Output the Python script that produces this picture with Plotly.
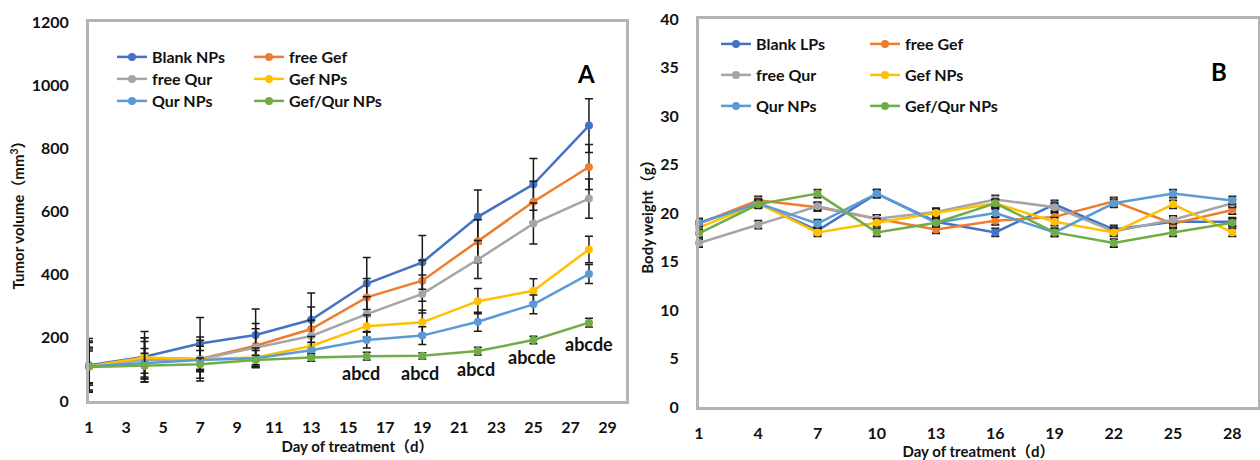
import plotly.graph_objects as go

# ---------------- data ----------------
days_a = [1, 4, 7, 10, 13, 16, 19, 22, 25, 28]
names_a = ["Blank NPs", "free Gef", "free Qur", "Gef NPs", "Qur NPs", "Gef/Qur NPs"]
blank_np = [113, 140, 182, 209, 257, 372, 439, 583, 686, 872]
free_gef_a = [110, 135, 133, 175, 228, 328, 381, 506, 631, 741]
free_qur_a = [110, 130, 132, 169, 206, 275, 339, 448, 562, 641]
gef_np_a = [110, 138, 133, 138, 174, 237, 249, 316, 349, 480]
qur_np_a = [110, 121, 130, 135, 161, 193, 207, 251, 306, 402]
gefqur_np_a = [108, 111, 116, 130, 138, 142, 143, 158, 193, 248]
blank_np_err = [85, 80, 82, 82, 85, 82, 85, 85, 82, 85]
free_gef_a_err = [80, 65, 70, 70, 70, 60, 65, 68, 65, 71]
free_qur_a_err = [75, 70, 60, 60, 50, 55, 60, 60, 65, 62]
gef_np_a_err = [60, 50, 40, 30, 30, 35, 38, 40, 38, 42]
qur_np_a_err = [55, 45, 30, 25, 25, 25, 28, 30, 30, 30]
gefqur_np_a_err = [50, 40, 20, 15, 12, 12, 10, 12, 12, 14]

sig_labels = ["abcd", "abcd", "abcd", "abcde", "abcde"]
sig_x = [15.7, 18.85, 21.9, 24.95, 28.0]
sig_y = [89, 89, 101, 139, 180]

days_b = [1, 4, 7, 10, 13, 16, 19, 22, 25, 28]
names_b = ["Blank LPs", "free Gef", "free Qur", "Gef NPs", "Qur NPs", "Gef/Qur NPs"]
blank_lp = [19.0, 21.0, 18.2, 22.0, 19.1, 18.0, 20.9, 18.3, 19.1, 19.1]
free_gef_b = [18.9, 21.3, 20.6, 19.4, 18.3, 19.2, 19.6, 21.2, 18.9, 20.3]
free_qur_b = [16.9, 18.8, 20.7, 19.4, 20.1, 21.4, 20.6, 18.1, 19.3, 21.0]
gef_np_b = [18.5, 21.0, 18.0, 19.0, 20.0, 21.0, 19.1, 18.0, 20.9, 18.0]
qur_np_b = [19.0, 21.0, 18.9, 22.0, 19.0, 20.0, 18.0, 21.0, 22.0, 21.3]
gefqur_np_b = [17.9, 20.9, 22.0, 18.0, 19.0, 21.0, 18.0, 16.9, 18.0, 19.0]
err_b = [0.4, 0.4, 0.4, 0.4, 0.4, 0.4, 0.4, 0.4, 0.4, 0.4]

colors = ["#4472C4", "#ED7D31", "#A5A5A5", "#FFC000", "#5B9BD5", "#70AD47"]

series_a = [blank_np, free_gef_a, free_qur_a, gef_np_a, qur_np_a, gefqur_np_a]
errs_a = [blank_np_err, free_gef_a_err, free_qur_a_err, gef_np_a_err, qur_np_a_err, gefqur_np_a_err]
series_b = [blank_lp, free_gef_b, free_qur_b, gef_np_b, qur_np_b, gefqur_np_b]

FONT = "Lato, 'Noto Sans CJK SC', sans-serif"
W, H = 1260, 460

fig = go.Figure()

legs_a = ["legend", "legend", "legend2", "legend2", "legend3", "legend3"]
legs_b = ["legend4", "legend4", "legend5", "legend5", "legend6", "legend6"]

for i, (nm, ys, es) in enumerate(zip(names_a, series_a, errs_a)):
    fig.add_trace(go.Scatter(
        x=days_a, y=ys, name=nm, mode="lines+markers", cliponaxis=False,
        line=dict(color=colors[i], width=2.5),
        marker=dict(color=colors[i], size=8),
        error_y=dict(type="data", array=es, color="#1a1a1a", thickness=1.5, width=4),
        xaxis="x", yaxis="y", legend=legs_a[i],
    ))

for i, (nm, ys) in enumerate(zip(names_b, series_b)):
    fig.add_trace(go.Scatter(
        x=days_b, y=ys, name=nm, mode="lines+markers", cliponaxis=False,
        line=dict(color=colors[i], width=2.5),
        marker=dict(color=colors[i], size=8),
        error_y=dict(type="data", array=err_b, color="#1a1a1a", thickness=2, width=4),
        xaxis="x2", yaxis="y2", legend=legs_b[i],
    ))

for t, xx, yy in zip(sig_labels, sig_x, sig_y):
    fig.add_annotation(x=xx, y=yy, xref="x", yref="y", text="<b>" + t + "</b>", showarrow=False,
                       font=dict(family=FONT, size=18, color="#111"), xanchor="center", yanchor="middle")

fig.add_annotation(x=586 / W, y=1 - 57 / H, xref="paper", yref="paper", text="<b>A</b>", showarrow=False,
                   font=dict(family=FONT, size=24, color="#000"))
fig.add_annotation(x=1229 / W, y=1 - 55 / H, xref="paper", yref="paper", text="<b>B</b>", showarrow=False,
                   font=dict(family=FONT, size=24, color="#000"))

axis_common = dict(showgrid=False, zeroline=False, showline=True, mirror=True, linecolor="#B4B4B4",
                   linewidth=3, ticks="", tickfont=dict(family=FONT, size=16, color="#111", weight="bold"),
                   automargin=False)

title_font = dict(family=FONT, size=15, color="#111")
legend_font = dict(family=FONT, size=16, color="#111", weight="bold")


def leg(x, y, ew):
    return dict(x=x, y=y, xanchor="left", yanchor="middle", orientation="h", bgcolor="rgba(0,0,0,0)",
                font=legend_font, entrywidth=ew, entrywidthmode="pixels", itemwidth=30,
                tracegroupgap=0, traceorder="normal")


fig.update_layout(
    width=W, height=H, margin=dict(l=0, r=0, t=0, b=0),
    paper_bgcolor="white", plot_bgcolor="white", showlegend=True,
    xaxis=dict(domain=[89 / W, 626 / W], range=[1, 30], tickvals=list(range(1, 30, 2)),
               anchor="y", ticklabelstandoff=10,
               title=dict(text="<b>Day of treatment（d）</b>", font=title_font, standoff=7),
               **axis_common),
    yaxis=dict(domain=[1 - 401 / H, 1 - 22 / H], range=[0, 1200], dtick=200, anchor="x",
               ticklabelstandoff=14,
               title=dict(text="<b>Tumor volume（mm<sup>3</sup>）</b>", font=title_font, standoff=4),
               **axis_common),
    xaxis2=dict(domain=[699 / W, 1258 / W], range=[1, 29.3], tickvals=days_b, anchor="y2",
                ticklabelstandoff=10,
                title=dict(text="<b>Day of treatment（d）</b>", font=title_font, standoff=6),
                **axis_common),
    yaxis2=dict(domain=[1 - 407 / H, 1 - 19 / H], range=[0, 40], dtick=5, anchor="x2",
                ticklabelstandoff=14,
                title=dict(text="<b>Body weight（g）</b>", font=title_font, standoff=3),
                **axis_common),
    legend=leg(112 / W, 1 - 57 / H, 92),
    legend2=leg(112 / W, 1 - 79 / H, 92),
    legend3=leg(112 / W, 1 - 101 / H, 92),
    legend4=leg(716 / W, 1 - 44 / H, 104),
    legend5=leg(716 / W, 1 - 75 / H, 104),
    legend6=leg(716 / W, 1 - 106 / H, 104),
)

fig.write_html("out.html")
